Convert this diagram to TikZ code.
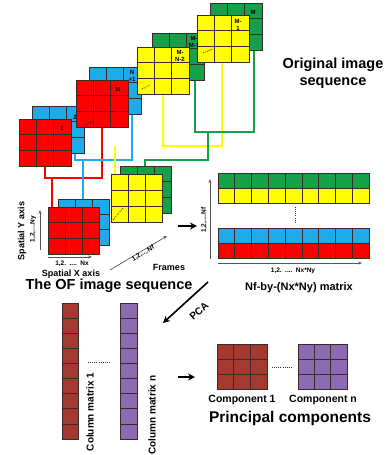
\documentclass[tikz,border=0pt]{standalone}
\usepackage{fontspec}
\setmainfont{Liberation Sans}
\usetikzlibrary{calc,arrows.meta}
\definecolor{cred}{HTML}{FF0000}
\definecolor{cblue}{HTML}{1FAAEB}
\definecolor{cyel}{HTML}{FFFF00}
\definecolor{cgreen}{HTML}{16A04A}
\definecolor{cbrown}{HTML}{A3392F}
\definecolor{cpurple}{HTML}{8C6BB3}
\definecolor{gridc}{HTML}{3A2A2A}
\definecolor{axisc}{HTML}{555555}

% a filled block of cols x rows cells, named #1, top-left corner at (#2,#3)
\newcommand\gridbox[8]{%
  \node[name=#1, anchor=north west, inner sep=0pt, outer sep=0pt,
        minimum width=#4pt, minimum height=#5pt, fill=#8, draw=gridc,
        line width=0.6pt] at (#2,#3) {};
  \foreach \k in {1,...,#6}{\ifnum\k<#6
    \draw[gridc,line width=0.6pt] ($(#1.north west)!\k/#6!(#1.north east)$) -- ($(#1.south west)!\k/#6!(#1.south east)$);\fi}
  \foreach \k in {1,...,#7}{\ifnum\k<#7
    \draw[gridc,line width=0.6pt] ($(#1.north west)!\k/#7!(#1.south west)$) -- ($(#1.north east)!\k/#7!(#1.south east)$);\fi}
}

\tikzset{
  wire/.style={line width=1.3pt},
  dotline/.style={line width=0.8pt, dash pattern=on 0.9pt off 1.2pt, black!80},
  tag/.style={font=\bfseries\fontsize{6}{6}\selectfont, inner sep=0pt, align=center},
  axis/.style={axisc, line width=0.7pt, -{Stealth[length=4pt,width=3pt]}},
  bigarrow/.style={line width=1.6pt, -{Stealth[length=7pt,width=7pt]}},
  small/.style={font=\bfseries\fontsize{6.5}{6.5}\selectfont, inner sep=0pt},
  mid/.style={font=\bfseries\fontsize{9}{9}\selectfont, inner sep=0pt},
  title/.style={font=\bfseries\fontsize{14.5}{17}\selectfont, inner sep=0pt, align=center},
}

\begin{document}
\begin{tikzpicture}[x=1pt,y=-1pt]
\useasboundingbox (0,0) rectangle (389,455);

% ---- connectors between the original frames and the stacked sequence ----
\coordinate (rjoin) at (52,178);
\coordinate (bjoin) at (83,160);
\coordinate (yjoin) at (115,146);
\coordinate (gjoin) at (208,132);
\coordinate (gdrop) at (145,160);

\draw[wire,cred] (45,166) |- (102,178) -- (102,127);
\draw[wire,cred] (rjoin) -- (52,207);
\draw[wire,cblue] (75,152) |- (132,160) -- (132,115);
\draw[wire,cblue] (bjoin) -- (83,199);
\draw[wire,cyel] (163,94) |- (222,146) -- (222,62);
\draw[wire,cyel] (yjoin) -- (115,174);
\draw[wire,cgreen] (195,80) |- (254,132) -- (254,50);
\draw[wire,cgreen] (gjoin) |- (gdrop) -- (145,166);

% ---- original image sequence ----
\gridbox{b2}{32}{106}{52}{47}{3}{3}{cblue}
\gridbox{r1}{19}{119}{52}{47}{3}{3}{cred}
\gridbox{bN}{89}{67}{52}{47}{3}{3}{cblue}
\gridbox{rN}{76}{80}{52}{47}{3}{3}{cred}
\gridbox{gMM}{152}{33}{52}{47}{3}{3}{cgreen}
\gridbox{yMN}{137}{47}{52}{47}{3}{3}{cyel}
\gridbox{gM}{210}{3}{52}{47}{3}{3}{cgreen}
\gridbox{yM}{197}{15}{52}{47}{3}{3}{cyel}

\draw[dotline] ($(rN.south west)+(9,-1)$) -- ++(8,-5);
\draw[dotline] ($(yMN.south west)+(5,-5)$) -- ++(8,-4);
\draw[dotline] ($(yM.south west)+(6,-9)$) -- ++(10,-4);

\node[tag] (t1) at (62,128) {1};
\node[tag] (t2) at (75,117) {2};
\node[tag] (tN) at (118,89) {N};
\node[tag] (tN1) at (132,76) {N\\[1pt]+1};
\node[tag] (tMN2) at (180,55.5) {M-\\[1pt]N-2};
\node[tag] (tMM1) at (194,42) {M-\\[1pt]M-1};
\node[tag] (tM1) at (238,24.5) {M-\\[1pt]1};
\node[tag] (tM) at (253,12) {M};

\node[title] (orig) at (333,73) {Original image\\sequence};

% ---- optical-flow image sequence ----
\gridbox{ofG}{120}{166}{51}{47}{3}{3}{cgreen}
\gridbox{ofY}{111}{174}{51}{48}{3}{3}{cyel}
\gridbox{ofB}{58}{199}{51}{46}{3}{3}{cblue}
\gridbox{ofR}{48}{207}{51}{47}{3}{3}{cred}
\draw[dotline] ($(ofY.south west)+(2,-2)$) -- ++(10,-12);

\coordinate (ya) at (40,250);
\coordinate (yb) at (40,210);
\draw[axis] (ya) -- (yb);
\node[small, rotate=90] (ylab) at (33,229) {1,2,....Ny};
\node[mid, rotate=90] (yname) at (22,231) {Spatial Y axis};
\coordinate (xa) at (48,257);
\coordinate (xb) at (92,257);
\draw[axis] (xa) -- (xb);
\node[small] (xlab) at (72,264) {1,2. \,....\, Nx};
\node[mid] (xname) at (71,274) {Spatial X axis};
\coordinate (fa) at (110,270);
\coordinate (fb) at (167,236);
\draw[axis] (fa) -- (fb);
\node[small, rotate=31] (flab) at (143,253.5) {1,2,....Nf};
\node[mid] (fname) at (169,267) {Frames};
\node[title] (ofname) at (109,286) {The OF image sequence};

% ---- Nf-by-(Nx*Ny) matrix ----
\coordinate (ma) at (178,226);
\coordinate (mb) at (197,226);
\draw[bigarrow] (ma) -- (mb);
\gridbox{mG}{218}{173}{151}{15}{9}{1}{cgreen}
\gridbox{mY}{218}{188}{151}{15}{9}{1}{cyel}
\gridbox{mB}{218}{228}{151}{15}{9}{1}{cblue}
\gridbox{mR}{218}{243}{151}{15}{9}{1}{cred}
\draw[dotline] (295,207) -- (295,223);
\coordinate (mya) at (210,259);
\coordinate (myb) at (210,179);
\draw[axis] (mya) -- (myb);
\node[small, rotate=90] (mylab) at (204,220) {1,2,....Nf};
\coordinate (mxa) at (218,263);
\coordinate (mxb) at (362,263);
\draw[axis] (mxa) -- (mxb);
\node[small] (mxlab) at (293,271) {1,2. \,....\, Nx*Ny};
\node[font=\bfseries\fontsize{11}{11}\selectfont, inner sep=0pt] (mname) at (299,288) {Nf-by-(Nx*Ny) matrix};

% ---- PCA ----
\coordinate (pa) at (208,282);
\coordinate (pb) at (163,323);
\draw[bigarrow] (pa) -- (pb);
\node[font=\bfseries\fontsize{10}{10}\selectfont, inner sep=0pt, rotate=42] (pca) at (199,311) {PCA};

% ---- column matrices ----
\gridbox{c1}{62}{303}{16}{136}{1}{9}{cbrown}
\gridbox{cn}{120}{303}{17}{136}{1}{9}{cpurple}
\draw[dotline] (88,362) -- (110,362);
\node[font=\bfseries\fontsize{10}{10}\selectfont, inner sep=0pt, rotate=90] (c1name) at (90,412) {Column matrix 1};
\node[font=\bfseries\fontsize{10}{10}\selectfont, inner sep=0pt, rotate=90] (cnname) at (152,415) {Column matrix n};

% ---- principal components ----
\coordinate (ca) at (178,377);
\coordinate (cb) at (195,377);
\draw[bigarrow] (ca) -- (cb);
\gridbox{p1}{217}{344}{50}{45}{3}{3}{cbrown}
\gridbox{pn}{298}{344}{49}{45}{3}{3}{cpurple}
\draw[dotline] (272,367) -- (293,367);
\node[font=\bfseries\fontsize{10.5}{10.5}\selectfont, inner sep=0pt] (p1name) at (242,400) {Component 1};
\node[font=\bfseries\fontsize{10.5}{10.5}\selectfont, inner sep=0pt] (pnname) at (323,400) {Component n};
\node[font=\bfseries\fontsize{15.5}{15.5}\selectfont, inner sep=0pt] (pcname) at (290,418) {Principal components};
\end{tikzpicture}
\end{document}
